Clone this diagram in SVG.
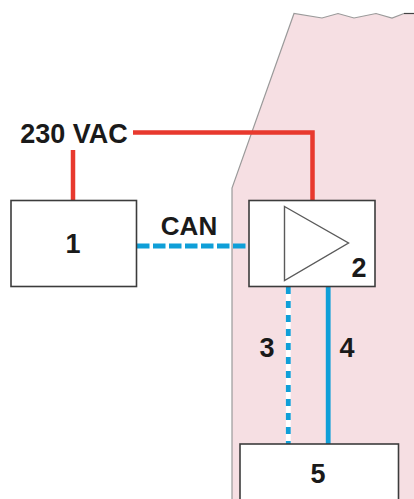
<svg xmlns="http://www.w3.org/2000/svg" width="414" height="499" viewBox="0 0 414 499">
<style>
.box{fill:#fff;stroke:#3c3c3c;stroke-width:1.600}
.t{font-family:"Liberation Sans",Arial,sans-serif;font-weight:700;fill:#1a1a1a;text-anchor:middle}
.red{fill:none;stroke:#e8392e;stroke-width:4.500}
.blue{fill:none;stroke:#0f9fd8;stroke-width:4.800}
.gap{fill:none;stroke:#fff;stroke-width:4.800}
</style>
<rect width="414" height="499" fill="#fff"/>
<path id="zone" d="M414 13.500L404 13.500L392 18L376 13.500L354 18L338 13.500L322 18L294 13.500L232 188L232 499L414 499Z" fill="#f6dfe3"/>
<path d="M404 13.500L392 18L376 13.500L354 18L338 13.500L322 18L294 13.500L232 188L232 499" fill="none" stroke="#9a9a9a" stroke-width="1.200"/>
<path d="M414 13.500H404" fill="none" stroke="#444" stroke-width="1.200"/>
<g id="connectors">
<path class="red" d="M73 150V200"/>
<path class="red" d="M133 132.500H312.500V200"/>
<path class="blue" d="M137 246H248" stroke-dasharray="12.500 3.500"/>
<path class="gap" d="M288.300 287V444"/>
<path class="blue" d="M288.300 287V444" stroke-dasharray="7 7"/>
<path class="blue" d="M328.200 287V444"/>
</g>
<g id="node-1"><rect class="box" x="11" y="200.500" width="125.500" height="86"/><text class="t" x="73" y="252.500" font-size="27">1</text></g>
<g id="node-2"><rect class="box" x="249" y="200.500" width="126" height="86"/><path d="M284.500 206.500L348.500 243L284.500 280.500Z" fill="#fff" stroke="#5a5a5a" stroke-width="1.400"/><text class="t" x="359" y="277" font-size="27">2</text></g>
<g id="node-5"><rect class="box" x="240" y="444" width="158.500" height="60"/><text class="t" x="318" y="483" font-size="27">5</text></g>
<text class="t" x="74" y="143" font-size="27">230 VAC</text>
<text class="t" x="189" y="235" font-size="26">CAN</text>
<text class="t" x="267" y="357" font-size="27">3</text>
<text class="t" x="347" y="357" font-size="27">4</text>
</svg>
